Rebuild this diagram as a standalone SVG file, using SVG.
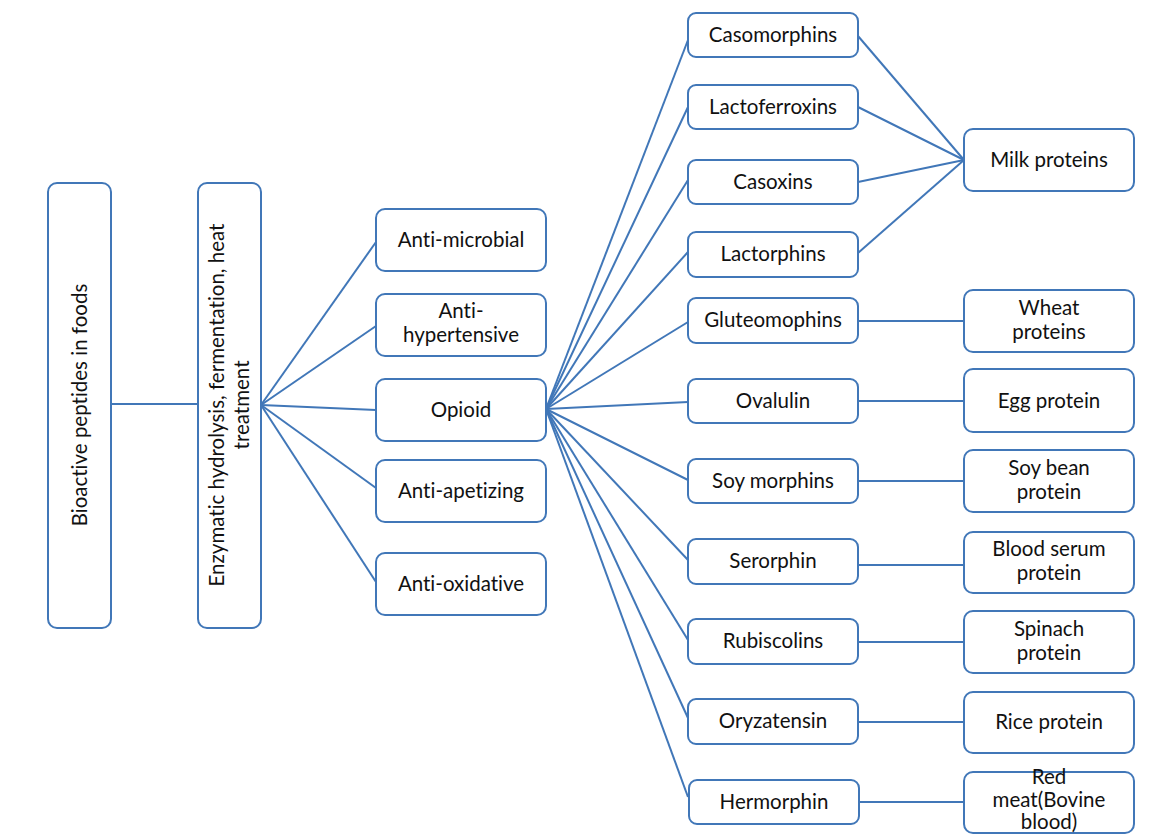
<svg xmlns="http://www.w3.org/2000/svg" width="1165" height="834" viewBox="0 0 1165 834">
<style>
.b{fill:#fff;stroke:#4177b8;stroke-width:2}
.c line{stroke:#4177b8;stroke-width:2}
text{font-family:Lato,"Open Sans","Liberation Sans",sans-serif;font-size:20.5px;fill:#111;text-anchor:middle;font-variant-ligatures:none}
</style>
<rect width="1165" height="834" fill="#fff"/>
<g class="c">
<line x1="111" y1="404" x2="198" y2="404"/>
<line x1="261" y1="405" x2="376" y2="242"/>
<line x1="261" y1="405" x2="376" y2="326"/>
<line x1="261" y1="405" x2="376" y2="410"/>
<line x1="261" y1="405" x2="376" y2="488"/>
<line x1="261" y1="405" x2="376" y2="582"/>
<line x1="546" y1="409" x2="688" y2="40"/>
<line x1="546" y1="409" x2="688" y2="107"/>
<line x1="546" y1="409" x2="688" y2="180"/>
<line x1="546" y1="409" x2="688" y2="252"/>
<line x1="546" y1="409" x2="688" y2="322"/>
<line x1="546" y1="409" x2="688" y2="402"/>
<line x1="546" y1="409" x2="688" y2="480"/>
<line x1="546" y1="409" x2="688" y2="560"/>
<line x1="546" y1="409" x2="688" y2="640"/>
<line x1="546" y1="409" x2="688" y2="718"/>
<line x1="546" y1="409" x2="688" y2="797"/>
<line x1="858" y1="36" x2="964" y2="160"/>
<line x1="858" y1="107" x2="964" y2="160"/>
<line x1="858" y1="182" x2="964" y2="160"/>
<line x1="858" y1="253" x2="964" y2="160"/>
<line x1="858" y1="321" x2="964" y2="321"/>
<line x1="858" y1="401" x2="964" y2="401"/>
<line x1="858" y1="481" x2="964" y2="481"/>
<line x1="858" y1="565" x2="964" y2="565"/>
<line x1="858" y1="642" x2="964" y2="642"/>
<line x1="858" y1="722" x2="964" y2="722"/>
<line x1="858" y1="802" x2="964" y2="802"/>
</g>
<g id="n-bioactive"><rect class="b" x="48" y="183" width="63" height="445" rx="9"/><text transform="translate(87 405) rotate(-90)">Bioactive peptides in foods</text></g>
<g id="n-process"><rect class="b" x="198" y="183" width="63" height="445" rx="9"/><text transform="translate(224 405) rotate(-90)">Enzymatic hydrolysis, fermentation, heat</text><text transform="translate(249 405) rotate(-90)">treatment</text></g>
<g id="n-antimicrobial"><rect class="b" x="376" y="209" width="170" height="62" rx="9"/><text x="461" y="247">Anti-microbial</text></g>
<g id="n-antihypertensive"><rect class="b" x="376" y="294" width="170" height="62" rx="9"/><text x="461" y="318">Anti-</text><text x="461" y="342">hypertensive</text></g>
<g id="n-opioid"><rect class="b" x="376" y="379" width="170" height="62" rx="9"/><text x="461" y="417">Opioid</text></g>
<g id="n-antiapetizing"><rect class="b" x="376" y="460" width="170" height="62" rx="9"/><text x="461" y="498">Anti-apetizing</text></g>
<g id="n-antioxidative"><rect class="b" x="376" y="553" width="170" height="62" rx="9"/><text x="461" y="591">Anti-oxidative</text></g>
<g id="n-casomorphins"><rect class="b" x="688" y="13" width="170" height="44" rx="8"/><text x="773" y="42">Casomorphins</text></g>
<g id="n-lactoferroxins"><rect class="b" x="688" y="85" width="170" height="44" rx="8"/><text x="773" y="114">Lactoferroxins</text></g>
<g id="n-casoxins"><rect class="b" x="688" y="160" width="170" height="44" rx="8"/><text x="773" y="189">Casoxins</text></g>
<g id="n-lactorphins"><rect class="b" x="688" y="232" width="170" height="45" rx="8"/><text x="773" y="261">Lactorphins</text></g>
<g id="n-gluteomophins"><rect class="b" x="688" y="298" width="170" height="45" rx="8"/><text x="773" y="327">Gluteomophins</text></g>
<g id="n-ovalulin"><rect class="b" x="688" y="379" width="170" height="44" rx="8"/><text x="773" y="408">Ovalulin</text></g>
<g id="n-soymorphins"><rect class="b" x="688" y="459" width="170" height="44" rx="8"/><text x="773" y="488">Soy morphins</text></g>
<g id="n-serorphin"><rect class="b" x="688" y="539" width="170" height="45" rx="8"/><text x="773" y="568">Serorphin</text></g>
<g id="n-rubiscolins"><rect class="b" x="688" y="619" width="170" height="45" rx="8"/><text x="773" y="648">Rubiscolins</text></g>
<g id="n-oryzatensin"><rect class="b" x="688" y="699" width="170" height="45" rx="8"/><text x="773" y="728">Oryzatensin</text></g>
<g id="n-hermorphin"><rect class="b" x="689" y="780" width="170" height="44" rx="8"/><text x="774" y="809">Hermorphin</text></g>
<g id="n-milk"><rect class="b" x="964" y="129" width="170" height="62" rx="9"/><text x="1049" y="167">Milk proteins</text></g>
<g id="n-wheat"><rect class="b" x="964" y="290" width="170" height="62" rx="9"/><text x="1049" y="315">Wheat</text><text x="1049" y="339">proteins</text></g>
<g id="n-egg"><rect class="b" x="964" y="369" width="170" height="63" rx="9"/><text x="1049" y="408">Egg protein</text></g>
<g id="n-soybean"><rect class="b" x="964" y="450" width="170" height="62" rx="9"/><text x="1049" y="475">Soy bean</text><text x="1049" y="499">protein</text></g>
<g id="n-bloodserum"><rect class="b" x="964" y="532" width="170" height="61" rx="9"/><text x="1049" y="556">Blood serum</text><text x="1049" y="580">protein</text></g>
<g id="n-spinach"><rect class="b" x="964" y="611" width="170" height="62" rx="9"/><text x="1049" y="636">Spinach</text><text x="1049" y="660">protein</text></g>
<g id="n-rice"><rect class="b" x="964" y="692" width="170" height="61" rx="9"/><text x="1049" y="729">Rice protein</text></g>
<g id="n-redmeat"><rect class="b" x="964" y="772" width="170" height="61" rx="9"/><text x="1049" y="784">Red</text><text x="1049" y="807">meat(Bovine</text><text x="1049" y="829">blood)</text></g>
</svg>
